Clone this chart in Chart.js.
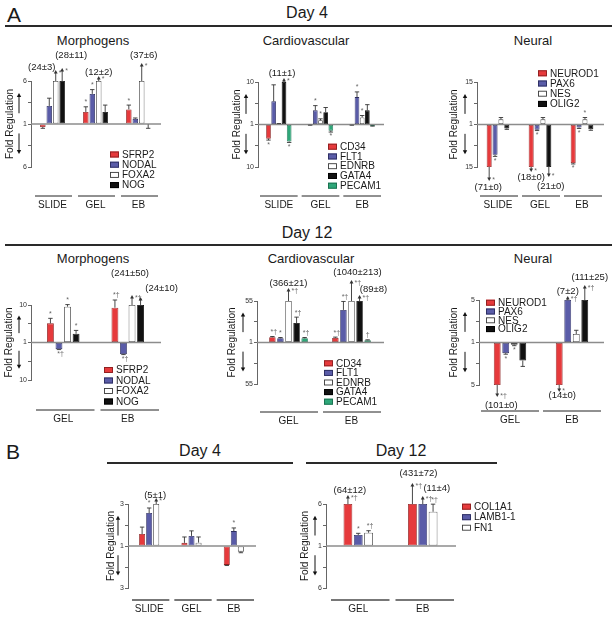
<!DOCTYPE html>
<html>
<head>
<meta charset="utf-8">
<script src="https://cdn.jsdelivr.net/npm/chart.js@4.4.1/dist/chart.umd.min.js"></script>
<style>
  html,body{margin:0;padding:0;background:#fff;}
  body{width:615px;height:617px;position:relative;overflow:hidden;font-family:Arial,"Liberation Sans",Helvetica,sans-serif;color:#1a1a1a;}
  canvas{position:absolute;left:0;top:0;}
  .t{position:absolute;white-space:nowrap;transform:translate(-50%,-50%);line-height:1;}
  .hl{position:absolute;height:2px;background:#2a2a2a;}
</style>
</head>
<body>
<div class="t" style="left:14px;top:14px;font-size:21px;">A</div>
<div class="t" style="left:307px;top:13px;font-size:16px;">Day 4</div>
<div class="hl" style="left:5px;top:25px;width:607px;"></div>
<div class="t" style="left:93px;top:40px;font-size:13px;">Morphogens</div>
<div class="t" style="left:306px;top:40px;font-size:13px;">Cardiovascular</div>
<div class="t" style="left:533px;top:40px;font-size:13px;">Neural</div>
<div class="t" style="left:307px;top:233px;font-size:16px;">Day 12</div>
<div class="hl" style="left:5px;top:244px;width:607px;"></div>
<div class="t" style="left:93px;top:258px;font-size:13px;">Morphogens</div>
<div class="t" style="left:311px;top:258px;font-size:13px;">Cardiovascular</div>
<div class="t" style="left:533px;top:258px;font-size:13px;">Neural</div>
<div class="t" style="left:13px;top:451px;font-size:21px;">B</div>
<div class="t" style="left:200px;top:451px;font-size:16px;">Day 4</div>
<div class="hl" style="left:107px;top:462px;width:186px;"></div>
<div class="t" style="left:401px;top:451px;font-size:16px;">Day 12</div>
<div class="hl" style="left:306px;top:462px;width:191px;"></div>

<script>
// ================= DATA =================
const d4Groups = ['SLIDE', 'GEL', 'EB'];
const d12Groups = ['GEL', 'EB'];

const morphGenes = ['SFRP2', 'NODAL', 'FOXA2', 'NOG'];
const cardioGenes = ['CD34', 'FLT1', 'EDNRB', 'GATA4', 'PECAM1'];
const neuralGenes = ['NEUROD1', 'PAX6', 'NES', 'OLIG2'];
const ecmGenes = ['COL1A1', 'LAMB1-1', 'FN1'];

// axis end labels (fold regulation at the top / bottom tick)
const axisMaxA4 = [6, 10, 15];
const axisMaxA12 = [10, 55, 5];
const axisMaxB = [3, 6];

// fold regulation (negative = down-regulation)
// Panel A, Day 4, Morphogens
const a4MorphSFRP2 = [-1.35, 2.4, 2.7];
const a4MorphNODAL = [3.1, 4.5, 1.6];
const a4MorphFOXA2 = [24, 12, 37];
const a4MorphNOG = [28, 2.4, -1.05];
const a4MorphErr = [[0.15, 0.6, 0.5], [0.9, 0.5, 0.1], [3, 2, 6], [11, 0.8, 0.45]];
const a4MorphSig = [['', '*', '*'], ['', '*', ''], ['*', '*', '*'], ['*', '', '']];

// Panel A, Day 4, Cardiovascular
const a4CardCD34 = [-4, -1.1, -1.1];
const a4CardFLT1 = [5.9, 4, 6.8];
const a4CardEDNRB = [1.15, 1.9, 2.5];
const a4CardGATA4 = [11, 3.6, 4];
const a4CardPECAM1 = [-4.6, -2.3, -1.3];
const a4CardErr = [[0.3, 0.05, 0.05], [3.5, 1, 1.1], [0.05, 0.3, 0.4], [1, 1, 1.2], [0.2, 0.3, 0.05]];
const a4CardSig = [['*', '', ''], ['', '*', '*'], ['', '*', '*'], ['*', '', ''], ['*', '*', '']];

// Panel A, Day 4, Neural
const a4NeurNEUROD1 = [-71, -18, -13.7];
const a4NeurPAX6 = [-11, -2.7, -2];
const a4NeurNES = [2.7, 2.7, 2.7];
const a4NeurOLIG2 = [-2.3, -21, -2.6];
const a4NeurErr = [[0, 0, 0.3], [0.5, 0.3, 0.3], [0.6, 0.6, 0.6], [0.3, 0, 0.3]];
const a4NeurSig = [['*', '*', '*'], ['*', '*', '*'], ['', '', '*'], ['', '*', '']];

// Panel A, Day 12, Morphogens
const a12MorphSFRP2 = [5.6, 9.35];
const a12MorphNODAL = [-2.6, -3.8];
const a12MorphFOXA2 = [9.6, 241];
const a12MorphNOG = [3.1, 24];
const a12MorphErr = [[1.2, 1.85], [0.1, 0.1], [0.5, 50], [0.8, 10]];
const a12MorphSig = [['*', '*†'], ['*†', '*†'], ['*', '*†'], ['*', '']];

// Panel A, Day 12, Cardiovascular
const a12CardCD34 = [7.8, 7];
const a12CardFLT1 = [6.5, 43.4];
const a12CardEDNRB = [366, 1040];
const a12CardGATA4 = [26.3, 89];
const a12CardPECAM1 = [6.5, 4];
const a12CardErr = [[1, 1], [1, 11], [21, 213], [7.7, 8], [1, 0.5]];
const a12CardSig = [['*†', '*†'], ['*', '*†'], ['*†', '*†'], ['*†', '*†'], ['*†', '†']];

// Panel A, Day 12, Neural
const a12NeurNEUROD1 = [-101, -14];
const a12NeurPAX6 = [-2, 7];
const a12NeurNES = [-1.2, 1.8];
const a12NeurOLIG2 = [-2.7, 111];
const a12NeurErr = [[0, 0], [0.1, 2], [0.1, 0.35], [0.55, 25]];
const a12NeurSig = [['*†', '*'], ['*', '*†'], ['*', ''], ['', '*†']];

// Panel B, Day 4
const b4COL1A1 = [1.57, 1.15, -1.9];
const b4LAMB1 = [2.57, 1.48, 1.71];
const b4FN1 = [5, 1.16, -1.27];
const b4Err = [[0.33, 0.28, 0.03], [0.24, 0.24, 0.15], [1, 0.27, 0.05]];
const b4Sig = [['', '', ''], ['*', '', '*'], ['*', '', '']];

// Panel B, Day 12
const b12COL1A1 = [64, 431];
const b12LAMB1 = [2.31, 11];
const b12FN1 = [2.58, 5.08];
const b12Err = [[12, 72], [0.2, 4], [0.24, 0.9]];
const b12Sig = [['*†', '*†'], ['*', '*†'], ['*†', '*†']];

// ================= STYLE / LAYOUT =================
const RED = '#e63a3c', BLUE = '#5a5ca8', WHITE = '#ffffff', BLACK = '#111111', GREEN = '#2ea779';
const EDGE = {};
EDGE[RED] = '#8a1f1f'; EDGE[BLUE] = '#2c2d5e'; EDGE[WHITE] = '#3a3a3a'; EDGE[BLACK] = '#000000'; EDGE[GREEN] = '#1b6d4e';
const FONT = 'Arial, "Liberation Sans", Helvetica, sans-serif';
Chart.defaults.font.family = FONT;
Chart.defaults.animation = false;

const specs = [
  { id: 'a4m', groups: d4Groups, genes: morphGenes, colors: [RED, BLUE, WHITE, BLACK],
    values: [a4MorphSFRP2, a4MorphNODAL, a4MorphFOXA2, a4MorphNOG], errs: a4MorphErr, sigs: a4MorphSig, max: axisMaxA4[0],
    box: { axis: 31, right: 160, top: 81, bottom: 167 }, cat: 0.6, bar: 0.85,
    gl: { y: 196, inL: 4, inR: 2, color: '#222', w: 1 }, ylab: { x: 10, ax: 19 },
    legend: { x: 110, y: 154.5, dy: 10.2 },
    notes: { '2-0': [-14, -14, 11], '3-0': [9, -26, 13], '2-1': [0, -9, 5], '2-2': [2, -26, 18] } },
  { id: 'a4c', groups: d4Groups, genes: cardioGenes, colors: [RED, BLUE, WHITE, BLACK, GREEN],
    values: [a4CardCD34, a4CardFLT1, a4CardEDNRB, a4CardGATA4, a4CardPECAM1], errs: a4CardErr, sigs: a4CardSig, max: axisMaxA4[1],
    box: { axis: 258, right: 383, top: 82, bottom: 167 }, cat: 0.62, bar: 0.9,
    gl: { y: 196, inL: 2, inR: 2, color: '#222', w: 1 }, ylab: { x: 237, ax: 246 },
    legend: { x: 328, y: 146.7, dy: 9.75 },
    notes: { '3-0': [-2, -9, 4] } },
  { id: 'a4n', groups: d4Groups, genes: neuralGenes, colors: [RED, BLUE, WHITE, BLACK],
    values: [a4NeurNEUROD1, a4NeurPAX6, a4NeurNES, a4NeurOLIG2], errs: a4NeurErr, sigs: a4NeurSig, max: axisMaxA4[2],
    box: { axis: 477, right: 603, top: 82, bottom: 167 }, cat: 0.56, bar: 0.85,
    gl: { y: 196, inL: 3, inR: 1, color: '#222', w: 1 }, ylab: { x: 454, ax: 465 },
    legend: { x: 538, y: 73.3, dy: 10.2 },
    notes: { '0-0': [-1, 20, 14], '0-1': [0, 10, 5], '3-1': [2, 19, 10] } },
  { id: 'a12m', groups: d12Groups, genes: morphGenes, colors: [RED, BLUE, WHITE, BLACK],
    values: [a12MorphSFRP2, a12MorphNODAL, a12MorphFOXA2, a12MorphNOG], errs: a12MorphErr, sigs: a12MorphSig, max: axisMaxA12[0],
    box: { axis: 31, right: 160, top: 305, bottom: 380 }, cat: 0.53, bar: 0.8,
    gl: { y: 410, inL: 5, inR: 1, color: '#222', w: 1 }, ylab: { x: 9, ax: 19 },
    legend: { x: 104, y: 370, dy: 10.5 },
    notes: { '2-1': [-2, -32, 10], '3-1': [21, -17, 8] } },
  { id: 'a12c', groups: d12Groups, genes: cardioGenes, colors: [RED, BLUE, WHITE, BLACK, GREEN],
    values: [a12CardCD34, a12CardFLT1, a12CardEDNRB, a12CardGATA4, a12CardPECAM1], errs: a12CardErr, sigs: a12CardSig, max: axisMaxA12[1],
    box: { axis: 257, right: 383, top: 301, bottom: 384 }, cat: 0.64, bar: 0.8,
    gl: { y: 412, inL: 3, inR: 2, color: '#222', w: 1 }, ylab: { x: 232, ax: 243 },
    legend: { x: 324, y: 363.3, dy: 9.6 },
    notes: { '2-0': [0, -18, 13], '2-1': [6, -29, 21], '3-1': [14, -12, 6] } },
  { id: 'a12n', groups: d12Groups, genes: neuralGenes, colors: [RED, BLUE, WHITE, BLACK],
    values: [a12NeurNEUROD1, a12NeurPAX6, a12NeurNES, a12NeurOLIG2], errs: a12NeurErr, sigs: a12NeurSig, max: axisMaxA12[2],
    box: { axis: 479, right: 603, top: 300, bottom: 385 }, cat: 0.55, bar: 0.8,
    gl: { y: 411, inL: 2, inR: 2, color: '#222', w: 1 }, ylab: { x: 454, ax: 465 },
    legend: { x: 486, y: 302.7, dy: 8.8 },
    notes: { '0-0': [4, 20, 12], '0-1': [3, 10, 7], '1-1': [0, -9, 4], '3-1': [5, -23, 15] } },
  { id: 'b4', groups: d4Groups, genes: ecmGenes, colors: [RED, BLUE, WHITE],
    values: [b4COL1A1, b4LAMB1, b4FN1], errs: b4Err, sigs: b4Sig, max: axisMaxB[0],
    box: { axis: 128, right: 255, top: 504, bottom: 588 }, cat: 0.5, bar: 0.85,
    gl: { y: 600, inL: 4, inR: 1, color: '#777', w: 2 }, ylab: { x: 111, ax: 118 },
    legend: null,
    notes: { '2-0': [-1, -9, 6] } },
  { id: 'b12', groups: d12Groups, genes: ecmGenes, colors: [RED, BLUE, WHITE],
    values: [b12COL1A1, b12LAMB1, b12FN1], errs: b12Err, sigs: b12Sig, max: axisMaxB[1],
    box: { axis: 326, right: 455, top: 504, bottom: 588 }, cat: 0.48, bar: 0.85,
    gl: { y: 600, inL: 5, inR: 1, color: '#777', w: 2 }, ylab: { x: 305, ax: 315 },
    legend: { x: 462, y: 506.7, dy: 10.5 },
    notes: { '0-0': [2, -14, 9], '0-1': [6, -31, 21], '1-1': [14, -16, 8] } }
];

// ================= DRAWING =================
function vArrow(ctx, x, y0, y1, head) {
  const dir = y1 < y0 ? -1 : 1;
  ctx.beginPath(); ctx.moveTo(x, y0); ctx.lineTo(x, y1 - dir * head * 0.6); ctx.stroke();
  ctx.beginPath(); ctx.moveTo(x, y1); ctx.lineTo(x - head * 0.55, y1 - dir * head); ctx.lineTo(x + head * 0.55, y1 - dir * head); ctx.closePath(); ctx.fill();
}

function makeFig(spec) {
  return {
    id: 'fig_' + spec.id,
    afterDatasetsDraw(chart) {
      const ctx = chart.ctx, a = chart.chartArea, ys = chart.scales.y, xs = chart.scales.x;
      const z = ys.getPixelForValue(0), h = z - a.top;
      ctx.save();
      // zero baseline
      ctx.strokeStyle = '#8c8c8c'; ctx.lineWidth = 1.4;
      ctx.beginPath(); ctx.moveTo(a.left, z); ctx.lineTo(a.right + 1, z); ctx.stroke();

      // bars: error bars, arrows, notes, significance
      spec.genes.forEach((g, i) => {
        const meta = chart.getDatasetMeta(i);
        meta.data.forEach((el, j) => {
          const f = spec.values[i][j], e = spec.errs[i][j], s = spec.sigs[i][j];
          const dir = f >= 0 ? -1 : 1;
          const endY = el.y;
          ctx.strokeStyle = '#333'; ctx.fillStyle = '#333'; ctx.lineWidth = 0.9;
          if (Math.abs(f) > spec.max) {
            const n = spec.notes[i + '-' + j] || [0, dir * 12, 8];
            const tipY = endY + dir * n[2];
            vArrow(ctx, el.x, endY, tipY, 3.5);
            ctx.fillStyle = '#1a1a1a';
            ctx.font = '9.5px ' + FONT; ctx.textAlign = 'center'; ctx.textBaseline = 'middle';
            ctx.fillText('(' + Math.abs(f) + '±' + e + ')', el.x + n[0], endY + n[1]);
            if (s) {
              ctx.fillStyle = '#666'; ctx.font = '7px ' + FONT; ctx.textAlign = 'left';
              ctx.fillText(s, el.x + 3, tipY + (dir < 0 ? 3 : -1));
            }
          } else {
            let markY = endY;
            if (e > 0.02) {
              const ev = Math.sign(f) * (Math.abs(f) + e - 1);
              const eY = ys.getPixelForValue(ev);
              ctx.beginPath(); ctx.moveTo(el.x, endY); ctx.lineTo(el.x, eY);
              ctx.moveTo(el.x - 2.2, eY); ctx.lineTo(el.x + 2.2, eY); ctx.stroke();
              markY = eY;
            }
            if (s) {
              ctx.fillStyle = '#666'; ctx.font = '7px ' + FONT; ctx.textAlign = 'center'; ctx.textBaseline = 'middle';
              ctx.fillText(s, el.x + (s.length > 1 ? 1.5 : 0), markY + dir * 4.5);
            }
          }
        });
      });

      // group lines and labels
      const n = spec.groups.length, cw = (a.right - a.left) / n;
      spec.groups.forEach((gname, j) => {
        const c = xs.getPixelForValue(j);
        ctx.strokeStyle = spec.gl.color; ctx.lineWidth = spec.gl.w;
        ctx.beginPath(); ctx.moveTo(c - cw / 2 + spec.gl.inL, spec.gl.y); ctx.lineTo(c + cw / 2 - spec.gl.inR, spec.gl.y); ctx.stroke();
        ctx.fillStyle = '#1a1a1a'; ctx.font = '10px ' + FONT; ctx.textAlign = 'center'; ctx.textBaseline = 'middle';
        ctx.fillText(gname, c, spec.gl.y + 9.5);
      });

      // y axis title with direction arrows
      ctx.save();
      ctx.translate(spec.ylab.x, z); ctx.rotate(-Math.PI / 2);
      ctx.fillStyle = '#1a1a1a'; ctx.font = '10px ' + FONT; ctx.textAlign = 'center'; ctx.textBaseline = 'middle';
      ctx.fillText('Fold Regulation', 0, 0);
      ctx.restore();
      ctx.strokeStyle = '#111'; ctx.fillStyle = '#111'; ctx.lineWidth = 1;
      vArrow(ctx, spec.ylab.ax, z - h * 0.25, z - h * 0.72, 4);
      vArrow(ctx, spec.ylab.ax, z + h * 0.22, z + h * 0.7, 4);

      // legend
      if (spec.legend) {
        const L = spec.legend;
        spec.genes.forEach((g, i) => {
          const y = L.y + i * L.dy;
          ctx.fillStyle = spec.colors[i]; ctx.fillRect(L.x, y - 3, 9, 6);
          ctx.strokeStyle = EDGE[spec.colors[i]]; ctx.lineWidth = 0.9; ctx.strokeRect(L.x + 0.5, y - 2.5, 8, 5);
          ctx.fillStyle = '#1a1a1a'; ctx.font = '10px ' + FONT; ctx.textAlign = 'left'; ctx.textBaseline = 'middle';
          ctx.fillText(g, L.x + 12, y + 0.5);
        });
      }
      ctx.restore();
    }
  };
}

function build(spec) {
  const cv = document.createElement('canvas');
  cv.width = 615; cv.height = 617;
  document.body.appendChild(cv);
  const H = spec.max - 1;
  const YW = 14;
  const plotted = spec.values.map(arr => arr.map(f => Math.sign(f) * Math.max(Math.min(Math.abs(f), spec.max) - 1, 0)));
  new Chart(cv, {
    type: 'bar',
    data: {
      labels: spec.groups,
      datasets: spec.genes.map((g, i) => ({
        label: g, data: plotted[i],
        backgroundColor: spec.colors[i], borderColor: EDGE[spec.colors[i]], borderWidth: 0.8, borderSkipped: false,
        categoryPercentage: spec.cat, barPercentage: spec.bar
      }))
    },
    options: {
      responsive: false, animation: false, devicePixelRatio: 1,
      layout: { padding: { left: spec.box.axis - YW, right: 615 - spec.box.right, top: spec.box.top, bottom: 617 - spec.box.bottom } },
      plugins: { legend: { display: false }, tooltip: { enabled: false }, title: { display: false } },
      scales: {
        x: { type: 'category', display: false, offset: true },
        y: {
          min: -H, max: H, position: 'left',
          afterFit: s => { s.width = YW; },
          afterBuildTicks: s => { s.ticks = [-H, -H / 2, 0, H / 2, H].map(v => ({ value: v })); },
          ticks: { font: { size: 7 }, color: '#333', padding: 1, autoSkip: false,
                   callback: v => v === 0 ? '1' : (Math.abs(v) === H ? String(spec.max) : '') },
          grid: { drawOnChartArea: false, drawTicks: true, tickLength: 3, color: '#666', lineWidth: 1 },
          border: { display: true, color: '#666', width: 1 }
        }
      }
    },
    plugins: [makeFig(spec)]
  });
}

specs.forEach(build);
</script>
</body>
</html>
